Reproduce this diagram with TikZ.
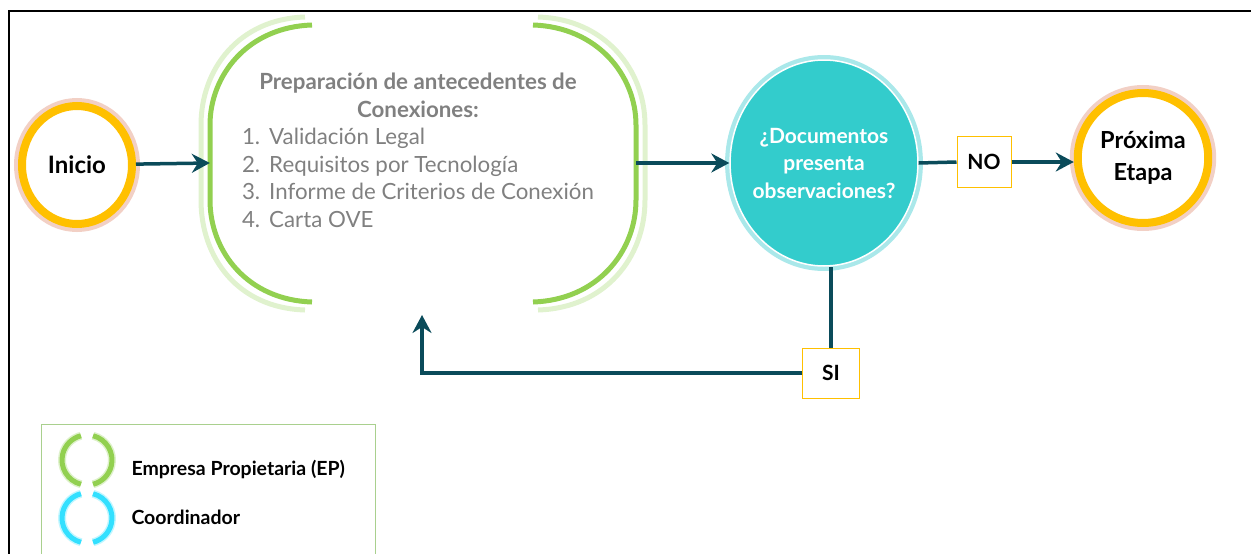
\documentclass[tikz,border=0pt]{standalone}
\usepackage{fontspec}
\setmainfont{Lato}
\usetikzlibrary{positioning}
\usetikzlibrary{arrows.meta}
\usetikzlibrary{shapes.geometric}
\definecolor{ep}{RGB}{146,208,80}
\definecolor{coord}{RGB}{51,224,255}
\definecolor{ring}{RGB}{255,192,0}
\definecolor{halo}{RGB}{232,170,150}
\definecolor{turq}{RGB}{51,204,204}
\definecolor{turqglow}{RGB}{170,232,234}
\definecolor{flecha}{RGB}{10,75,90}
\definecolor{texto}{RGB}{128,128,128}
\definecolor{marco}{RGB}{169,208,142}
\tikzstyle{every flow} = []
\tikzstyle{flow} = [draw=flecha, line width=3.5pt, >={Stealth[length=18pt,width=19pt,inset=6pt]}, every flow]
\tikzstyle{terminal} = [ellipse, fill=white, draw=ring, line width=8pt,
    preaction={draw=halo, draw opacity=0.55, line width=16pt}, font=\bfseries\fontsize{24}{32}\selectfont, align=center]
\tikzstyle{answer} = [rectangle, fill=white, draw=ring, line width=1pt, minimum width=54pt, minimum height=51pt,
    font=\bfseries\fontsize{21}{24}\selectfont]

\begin{document}
\begin{tikzpicture}[x=1pt, y=-1pt]
        \tikzstyle{bracket} = [draw=ep, line width=5pt]
        \tikzstyle{bracketglow} = [draw=ep!28, line width=5pt]
        \useasboundingbox (0,0) rectangle (1251,554);
        \draw[line width=2.5pt] (9,560) -- (9,11) -- (1260,11);

        % nodos principales
        \node[terminal, minimum width=110pt, minimum height=118pt] (inicio) at (77,165) {Inicio};
        \node[rectangle, minimum width=426pt, minimum height=277pt] (prep) at (423,163) {};
        \node[ellipse, fill=turq, draw=white, line width=1.5pt, inner xsep=-5pt, inner ysep=0pt,
            minimum width=186pt, minimum height=206pt,
            preaction={draw=turqglow, line width=10pt}, text=white, align=center,
            font=\bfseries\fontsize{21}{27.5}\selectfont] (revision) at (824,163)
            {¿Documentos\\presenta\\observaciones?};
        \node[answer] (no) at (984,162) {NO};
        \node[terminal, minimum width=130pt, minimum height=130pt, font=\bfseries\fontsize{23.5}{32}\selectfont]
            (proxima) at (1143,158) {Próxima\\Etapa};
        \node[answer, minimum width=57pt, minimum height=50pt] (si) at (831,373) {SI};
        \coordinate (vuelta) at (422,315);

        % corchetes de la etapa EP
        \draw[bracketglow] (305,17) .. controls (238,19) and (201,70) .. (201,125) -- (201,200)
            .. controls (201,258) and (238,308) .. (305,310);
        \draw[bracket] (312,25) .. controls (248,27) and (210,75) .. (210,125) -- (210,200)
            .. controls (210,252) and (248,300) .. (312,302);
        \draw[bracketglow] (538,17) .. controls (605,19) and (645,70) .. (645,125) -- (645,200)
            .. controls (645,258) and (605,308) .. (538,310);
        \draw[bracket] (533,25) .. controls (597,27) and (636,75) .. (636,125) -- (636,200)
            .. controls (636,252) and (597,300) .. (533,302);
        \node[text=texto, font=\fontsize{22.3}{27.5}\selectfont] (preptexto) at (418,153)
            {\begin{tabular}{@{}r@{\hspace{9pt}}l@{}}
            \multicolumn{2}{c}{\bfseries Preparación de antecedentes de}\\
            \multicolumn{2}{c}{\bfseries Conexiones:}\\
            1. & Validación Legal\\
            2. & Requisitos por Tecnología\\
            3. & Informe de Criterios de Conexión\\
            4. & Carta OVE
            \end{tabular}};

        % conectores
        \draw[flow, ->] (inicio) -- (prep.west);
        \draw[flow, ->] (prep.east) -- (revision.west);
        \draw[flow] (revision.east) -- (no.west);
        \draw[flow, ->] (no.east) -- (proxima.west |- no.east);
        \draw[flow] (si.north) -- (si.north |- revision.south);
        \draw[flow, ->] (si.west) -| (vuelta);

        % leyenda
        \node[rectangle, draw=marco, line width=1pt, minimum width=334pt, minimum height=150pt] (leyenda) at (208,499) {};
        \foreach \col/\y/\name in {ep/460/icoep, coord/518/icocoord} {
            \coordinate (\name) at (87,\y);
            \draw[draw=\col!30, line width=8pt] (\name) ++(104:25) arc (104:256:25);
            \draw[draw=\col!30, line width=8pt] (\name) ++(-76:25) arc (-76:76:25);
            \draw[draw=\col, line width=5pt] (\name) ++(104:25) arc (104:256:25);
            \draw[draw=\col, line width=5pt] (\name) ++(-76:25) arc (-76:76:25);
        }
        \node[anchor=west, font=\bfseries\fontsize{19.5}{22}\selectfont] (leyendaep) at (128,469) {Empresa Propietaria (EP)};
        \node[anchor=west, font=\bfseries\fontsize{19.5}{22}\selectfont] (leyendacoord) at (128,517) {Coordinador};
\end{tikzpicture}
\end{document}
